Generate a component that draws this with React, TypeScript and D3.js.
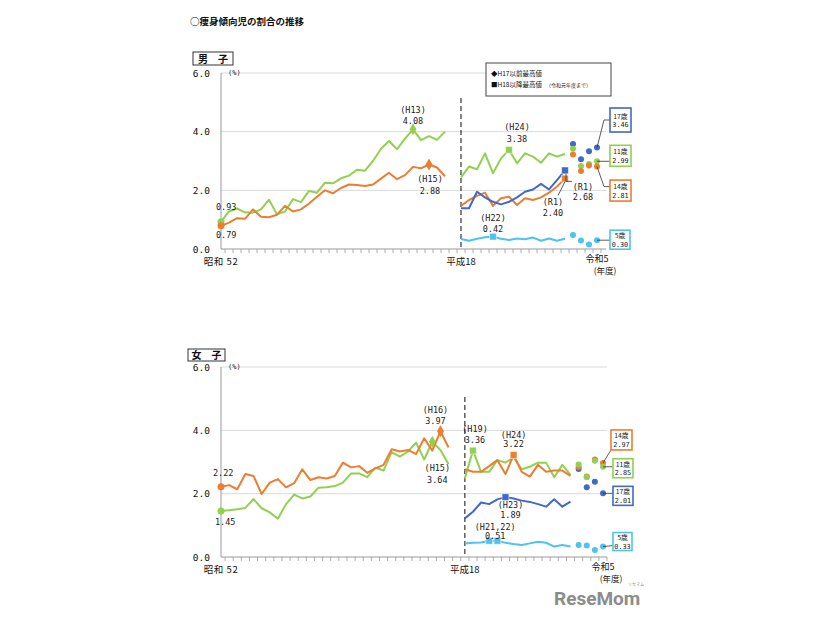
import React from 'react';
import * as d3 from 'd3';

const GREEN = '#92D050';
const ORANGE = '#ED7D31';
const BLUE = '#4169C8';
const LBLUE = '#4EC3EC';

const preYears = d3.range(1977, 2006);
const postYears = d3.range(2006, 2020);
const dotYears = d3.range(2020, 2024);
const slots = [...preYears.map(String), 'gap', ...postYears.map(String), ...dotYears.map(String)];

const yTicks = [0, 2, 4, 6];
const yTickLabels = ['0.0', '2.0', '4.0', '6.0'];

// 男子
const boys11Pre = [0.93,1.28,1.38,1.25,1.24,1.35,1.68,1.18,1.28,1.70,1.60,1.98,1.92,2.26,2.24,2.41,2.50,2.70,2.67,3.00,3.42,3.68,3.40,3.76,4.08,3.71,3.85,3.72,4.00];
const boys14Pre = [0.79,0.90,1.05,1.03,1.35,1.10,1.08,1.17,1.47,1.28,1.35,1.55,1.78,2.00,1.90,2.08,2.20,2.18,2.15,2.20,2.40,2.60,2.38,2.52,2.80,2.75,2.88,2.78,2.48];
const boys5Post = [0.34,0.28,0.35,0.40,0.42,0.35,0.31,0.36,0.33,0.39,0.28,0.36,0.28,0.35];
const boys11Post = [2.44,2.81,2.72,3.26,2.58,3.09,3.38,2.92,3.26,3.15,2.94,3.26,3.15,3.24];
const boys14Post = [1.47,1.67,1.81,1.92,1.47,1.73,1.78,1.50,1.73,1.67,1.76,1.92,2.13,2.40];
const boys17Post = [1.39,1.39,1.95,1.76,1.61,1.52,1.61,1.76,1.95,2.03,2.22,2.03,2.35,2.68];
const boys5Dots = [0.48,0.29,0.15,0.30];
const boys11Dots = [3.42,2.83,2.90,2.99];
const boys14Dots = [3.22,2.66,2.85,2.81];
const boys17Dots = [3.58,3.06,3.33,3.46];

// 女子
const girls14Pre = [2.22,2.27,2.14,2.62,2.56,1.99,2.35,2.46,2.20,2.33,2.77,2.43,2.52,2.48,2.56,2.98,2.83,2.87,2.66,2.80,2.91,3.40,3.33,3.38,3.25,3.75,3.36,3.97,3.46];
const girls11Pre = [1.45,1.48,1.51,1.55,1.83,1.54,1.41,1.21,1.67,1.97,1.85,1.91,2.19,2.20,2.24,2.35,2.64,2.64,2.52,2.82,2.73,3.31,3.17,3.33,3.61,3.08,3.64,3.38,2.93];
const girls5Post = [0.43,0.45,0.46,0.51,0.51,0.45,0.41,0.38,0.43,0.48,0.45,0.33,0.38,0.33];
const girls11Post = [2.48,3.36,2.69,2.69,3.06,2.98,3.15,2.77,2.85,2.98,2.98,2.52,2.91,2.59];
const girls14Post = [2.77,2.69,2.69,2.87,3.06,2.62,3.22,2.69,2.54,2.91,2.69,2.73,2.73,2.56];
const girls17Post = [1.22,1.43,1.72,1.67,1.82,1.89,1.85,1.78,1.74,1.67,1.59,1.82,1.59,1.75];
const girls5Dots = [0.38,0.36,0.22,0.33];
const girls11Dots = [2.92,2.52,3.04,2.85];
const girls14Dots = [2.84,2.54,3.08,2.97];
const girls17Dots = [2.78,2.20,2.38,2.01];

type Series = { key: string; years: number[]; values: number[]; color: string; kind: 'line' | 'dots' };

const boysSeries: Series[] = [
  { key: 'p11', years: preYears, values: boys11Pre, color: GREEN, kind: 'line' },
  { key: 'p14', years: preYears, values: boys14Pre, color: ORANGE, kind: 'line' },
  { key: 'a5', years: postYears, values: boys5Post, color: LBLUE, kind: 'line' },
  { key: 'a11', years: postYears, values: boys11Post, color: GREEN, kind: 'line' },
  { key: 'a14', years: postYears, values: boys14Post, color: ORANGE, kind: 'line' },
  { key: 'a17', years: postYears, values: boys17Post, color: BLUE, kind: 'line' },
  { key: 'd5', years: dotYears, values: boys5Dots, color: LBLUE, kind: 'dots' },
  { key: 'd17', years: dotYears, values: boys17Dots, color: BLUE, kind: 'dots' },
  { key: 'd11', years: dotYears, values: boys11Dots, color: GREEN, kind: 'dots' },
  { key: 'd14', years: dotYears, values: boys14Dots, color: ORANGE, kind: 'dots' },
];

const girlsSeries: Series[] = [
  { key: 'p11', years: preYears, values: girls11Pre, color: GREEN, kind: 'line' },
  { key: 'p14', years: preYears, values: girls14Pre, color: ORANGE, kind: 'line' },
  { key: 'a5', years: postYears, values: girls5Post, color: LBLUE, kind: 'line' },
  { key: 'a17', years: postYears, values: girls17Post, color: BLUE, kind: 'line' },
  { key: 'a11', years: postYears, values: girls11Post, color: GREEN, kind: 'line' },
  { key: 'a14', years: postYears, values: girls14Post, color: ORANGE, kind: 'line' },
  { key: 'd5', years: dotYears, values: girls5Dots, color: LBLUE, kind: 'dots' },
  { key: 'd17', years: dotYears, values: girls17Dots, color: BLUE, kind: 'dots' },
  { key: 'd14', years: dotYears, values: girls14Dots, color: ORANGE, kind: 'dots' },
  { key: 'd11', years: dotYears, values: girls11Dots, color: GREEN, kind: 'dots' },
];

type Mark = { key: string; year: number; shape: 'circle' | 'diamond' | 'square' };
const boysMarks: Mark[] = [
  { key: 'p11', year: 1977, shape: 'circle' },
  { key: 'p14', year: 1977, shape: 'circle' },
  { key: 'p11', year: 2001, shape: 'diamond' },
  { key: 'p14', year: 2003, shape: 'diamond' },
  { key: 'a11', year: 2012, shape: 'square' },
  { key: 'a5', year: 2010, shape: 'square' },
  { key: 'a14', year: 2019, shape: 'square' },
  { key: 'a17', year: 2019, shape: 'square' },
];
const girlsMarks: Mark[] = [
  { key: 'p11', year: 1977, shape: 'circle' },
  { key: 'p14', year: 1977, shape: 'circle' },
  { key: 'p14', year: 2004, shape: 'diamond' },
  { key: 'p11', year: 2003, shape: 'diamond' },
  { key: 'a11', year: 2007, shape: 'square' },
  { key: 'a14', year: 2012, shape: 'square' },
  { key: 'a17', year: 2011, shape: 'square' },
  { key: 'a5', year: 2009, shape: 'square' },
  { key: 'a5', year: 2010, shape: 'square' },
];

type Note = { key: string; year: number; lines: string[]; dx: number; dy: number[]; anchor?: string; leader?: number[][] };
const boysNotes: Note[] = [
  { key: 'p11', year: 1977, lines: ['0.93'], dx: -5, dy: [-12], anchor: 'start' },
  { key: 'p14', year: 1977, lines: ['0.79'], dx: -5, dy: [12], anchor: 'start' },
  { key: 'p11', year: 2001, lines: ['(H13)', '4.08'], dx: 0, dy: [-16, -5] },
  { key: 'p14', year: 2003, lines: ['(H15)', '2.88'], dx: 1, dy: [17, 29] },
  { key: 'a11', year: 2012, lines: ['(H24)', '3.38'], dx: 8, dy: [-20, -8] },
  { key: 'a5', year: 2010, lines: ['(H22)', '0.42'], dx: 0, dy: [-16, -5] },
  { key: 'a14', year: 2019, lines: ['(R1)', '2.40'], dx: -12, dy: [26, 37], leader: [[0, 3], [-7, 17]] },
  { key: 'a17', year: 2019, lines: ['(R1)', '2.68'], dx: 18, dy: [20, 30], leader: [[1, 3], [1, 11], [7, 11]] },
];
const girlsNotes: Note[] = [
  { key: 'p14', year: 1977, lines: ['2.22'], dx: -8, dy: [-11], anchor: 'start' },
  { key: 'p11', year: 1977, lines: ['1.45'], dx: -6, dy: [14], anchor: 'start' },
  { key: 'p14', year: 2004, lines: ['(H16)', '3.97'], dx: -5, dy: [-18, -7] },
  { key: 'p11', year: 2003, lines: ['(H15)', '3.64'], dx: 5, dy: [29, 41] },
  { key: 'a11', year: 2007, lines: ['(H19)', '3.36'], dx: 2, dy: [-19, -8] },
  { key: 'a14', year: 2012, lines: ['(H24)', '3.22'], dx: 0, dy: [-17, -8] },
  { key: 'a17', year: 2011, lines: ['(H23)', '1.89'], dx: 5, dy: [11, 21] },
  { key: 'a5', year: 2009, lines: ['(H21,22)', '0.51'], dx: 6, dy: [-11, -2] },
];

type Box = { key: string; year: number; lines: string[]; color: string; dx: number; dy: number; w: number; h: number; leader: number[][] };
const boysBoxes: Box[] = [
  { key: 'd17', year: 2023, lines: ['17歳', '3.46'], color: BLUE, dx: 13, dy: -39.5, w: 21, h: 24, leader: [[0, 0], [7, -27.5], [13, -27.5]] },
  { key: 'd11', year: 2023, lines: ['11歳', '2.99'], color: GREEN, dx: 13, dy: -16, w: 21, h: 21, leader: [[0, 0], [13, 0]] },
  { key: 'd14', year: 2023, lines: ['14歳', '2.81'], color: ORANGE, dx: 13, dy: 13.5, w: 21, h: 21, leader: [[0, 0], [7, 20], [13, 20]] },
  { key: 'd5', year: 2023, lines: ['5歳', '0.30'], color: LBLUE, dx: 13, dy: -10, w: 20, h: 19, leader: [[0, 0], [13, 0]] },
];
const girlsBoxes: Box[] = [
  { key: 'd14', year: 2023, lines: ['14歳', '2.97'], color: ORANGE, dx: 8, dy: -33, w: 21, h: 20, leader: [[0, 0], [8, -13]] },
  { key: 'd11', year: 2023, lines: ['11歳', '2.85'], color: GREEN, dx: 10, dy: -8, w: 20, h: 19, leader: [[0, 0], [10, 0]] },
  { key: 'd17', year: 2023, lines: ['17歳', '2.01'], color: BLUE, dx: 10, dy: -7, w: 20, h: 19, leader: [[0, 0], [10, 0]] },
  { key: 'd5', year: 2023, lines: ['5歳', '0.33'], color: LBLUE, dx: 10, dy: -14, w: 19, h: 18, leader: [[0, 0], [10, -1]] },
];

const MONO = '"DejaVu Sans Mono", "Noto Sans CJK JP", monospace';
const JP = '"Noto Sans CJK JP", sans-serif';

type PanelCfg = {
  label: string; lbx: number; lby: number; lbw: number; lbh: number;
  x0: number; x1: number; y0: number; y6: number; gridRight: number; dashTop: number;
  series: Series[]; marks: Mark[]; notes: Note[]; boxes: Box[];
};

function Panel({ cfg }: { cfg: PanelCfg }) {
  const x = d3.scalePoint<string>().domain(slots).range([cfg.x0, cfg.x1]);
  const y = d3.scaleLinear().domain([0, 6]).range([cfg.y0, cfg.y6]);
  const step = x.step();
  const byKey: Record<string, Series> = {};
  cfg.series.forEach((s) => (byKey[s.key] = s));
  const pos = (key: string, year: number) => {
    const s = byKey[key];
    const v = s.values[s.years.indexOf(year)];
    return [x(String(year)) as number, y(v)];
  };
  const line = d3.line<[number, number]>().x((d) => d[0]).y((d) => d[1]);
  const diamond = d3.symbol().type(d3.symbolDiamond).size(42)();
  const square = d3.symbol().type(d3.symbolSquare).size(46)();

  return (
    <g>
      <rect x={cfg.lbx} y={cfg.lby} width={cfg.lbw} height={cfg.lbh} fill="#fff" stroke="#333" strokeWidth={1} />
      <text x={cfg.lbx + cfg.lbw / 2} y={cfg.lby + cfg.lbh - 2} textAnchor="middle" fontSize={10} fontWeight="bold" fontFamily={JP} fill="#111">{cfg.label}</text>
      {yTicks.filter((t) => t > 0).map((t) => (
        <line key={t} x1={cfg.x0} x2={cfg.gridRight} y1={y(t)} y2={y(t)} stroke="#d9d9d9" strokeWidth={1} />
      ))}
      {yTicks.map((t, i) => (
        <text key={'yl' + t} x={cfg.x0 - 11} y={y(t) + 3.5} textAnchor="end" fontSize={9.5} fontFamily={MONO} fill="#111">{yTickLabels[i]}</text>
      ))}
      <text x={cfg.x0 + 7} y={cfg.y6 + 2} fontSize={7} fontFamily={MONO} fill="#222">(%)</text>
      <line x1={cfg.x0} x2={cfg.x0} y1={cfg.y6} y2={cfg.y0} stroke="#999" strokeWidth={1} />
      <line x1={cfg.x0} x2={cfg.gridRight} y1={cfg.y0} y2={cfg.y0} stroke="#999" strokeWidth={1} />
      {slots.map((s) => (
        <line key={'t' + s} x1={(x(s) as number) + step / 2} x2={(x(s) as number) + step / 2} y1={cfg.y0} y2={cfg.y0 + 4} stroke="#999" strokeWidth={0.8} />
      ))}
      <text x={x('1977')} y={cfg.y0 + 16} textAnchor="middle" fontSize={9.5} letterSpacing={0.6} fontFamily={JP} fill="#111">昭和 52</text>
      <text x={x('2006')} y={cfg.y0 + 16} textAnchor="middle" fontSize={9.5} fontFamily={JP} fill="#111">平成18</text>
      <text x={x('2023')} y={cfg.y0 + 13} textAnchor="middle" fontSize={9} fontFamily={JP} fill="#111">令和5</text>
      <text x={(x('2023') as number) + 8} y={cfg.y0 + 25} textAnchor="middle" fontSize={8.5} fontFamily={JP} fill="#111">(年度)</text>
      <line x1={x('2006')} x2={x('2006')} y1={cfg.dashTop} y2={cfg.y0} stroke="#444" strokeWidth={1.3} strokeDasharray="5,3" />
      {cfg.series.filter((s) => s.kind === 'line').map((s) => (
        <path key={s.key} d={line(s.values.map((v, i) => [x(String(s.years[i])) as number, y(v)])) as string} fill="none" stroke={s.color} strokeWidth={2} strokeLinejoin="round" />
      ))}
      {cfg.series.filter((s) => s.kind === 'dots').map((s) => (
        <g key={s.key}>
          {s.values.map((v, i) => (
            <circle key={i} cx={x(String(s.years[i]))} cy={y(v)} r={3} fill={s.color} />
          ))}
        </g>
      ))}
      {cfg.marks.map((m, i) => {
        const [px, py] = pos(m.key, m.year);
        const c = byKey[m.key].color;
        if (m.shape === 'circle') return <circle key={i} cx={px} cy={py} r={3.5} fill={c} />;
        return <path key={i} d={(m.shape === 'diamond' ? diamond : square) as string} transform={`translate(${px},${py})`} fill={c} stroke={m.shape === 'square' ? '#fff' : 'none'} strokeWidth={0.5} />;
      })}
      {cfg.notes.map((n, i) => {
        const [px, py] = pos(n.key, n.year);
        return (
          <g key={i}>
            {n.leader && (
              <path d={line(n.leader.map((p) => [px + p[0], py + p[1]] as [number, number])) as string} fill="none" stroke="#333" strokeWidth={0.8} />
            )}
            {n.lines.map((t, j) => (
              <text key={j} x={px + n.dx} y={py + n.dy[j]} textAnchor={n.anchor || 'middle'} fontSize={8.5} fontFamily={MONO} fill="#222">{t}</text>
            ))}
          </g>
        );
      })}
      {cfg.boxes.map((b, i) => {
        const [px, py] = pos(b.key, b.year);
        return (
          <g key={i}>
            <path d={line(b.leader.map((p) => [px + p[0], py + p[1]] as [number, number])) as string} fill="none" stroke="#333" strokeWidth={0.8} />
            <rect x={px + b.dx} y={py + b.dy} width={b.w} height={b.h} fill="#fff" stroke={b.color} strokeWidth={1.6} />
            <text x={px + b.dx + b.w / 2} y={py + b.dy + b.h / 2 - 1.5} textAnchor="middle" fontSize={6.8} fontFamily={JP} fill="#222">{b.lines[0]}</text>
            <text x={px + b.dx + b.w / 2} y={py + b.dy + b.h / 2 + 7} textAnchor="middle" fontSize={6.8} fontFamily={MONO} fill="#222">{b.lines[1]}</text>
          </g>
        );
      })}
    </g>
  );
}

const topCfg: PanelCfg = {
  label: '男　子', lbx: 193, lby: 52, lbw: 40, lbh: 13,
  x0: 221, x1: 597, y0: 249, y6: 73, gridRight: 606, dashTop: 98,
  series: boysSeries, marks: boysMarks, notes: boysNotes, boxes: boysBoxes,
};
const bottomCfg: PanelCfg = {
  label: '女　子', lbx: 188, lby: 349, lbw: 37, lbh: 12,
  x0: 221, x1: 603, y0: 557, y6: 367, gridRight: 607, dashTop: 397,
  series: girlsSeries, marks: girlsMarks, notes: girlsNotes, boxes: girlsBoxes,
};

export default function App() {
  return (
    <svg width={826} height={620} style={{ position: 'absolute', left: 0, top: 0, background: '#fff' }}>
      <rect width={826} height={620} fill="#fff" />
      <text x={190} y={25} fontSize={9.5} fontWeight="bold" fontFamily={JP} fill="#111">○痩身傾向児の割合の推移</text>
      <Panel cfg={topCfg} />
      <rect x={486} y={63} width={125} height={33} fill="#fff" stroke="#444" strokeWidth={1} />
      <text x={491} y={76} fontSize={6.5} fontFamily={JP} fill="#111">◆H17以前最高値</text>
      <text x={491} y={87} fontSize={6.5} fontFamily={JP} fill="#111">■H18以降最高値<tspan fontSize={5} dx={4}>（令和元年度まで）</tspan></text>
      <Panel cfg={bottomCfg} />
      <text x={554} y={605} fontSize={19} fontWeight="bold" fontFamily="Roboto, sans-serif" fill="#8c8c8c">ReseMom</text>
      <text x={628} y={586} fontSize={4} fontFamily={JP} fill="#8c8c8c">リセマム</text>
    </svg>
  );
}
